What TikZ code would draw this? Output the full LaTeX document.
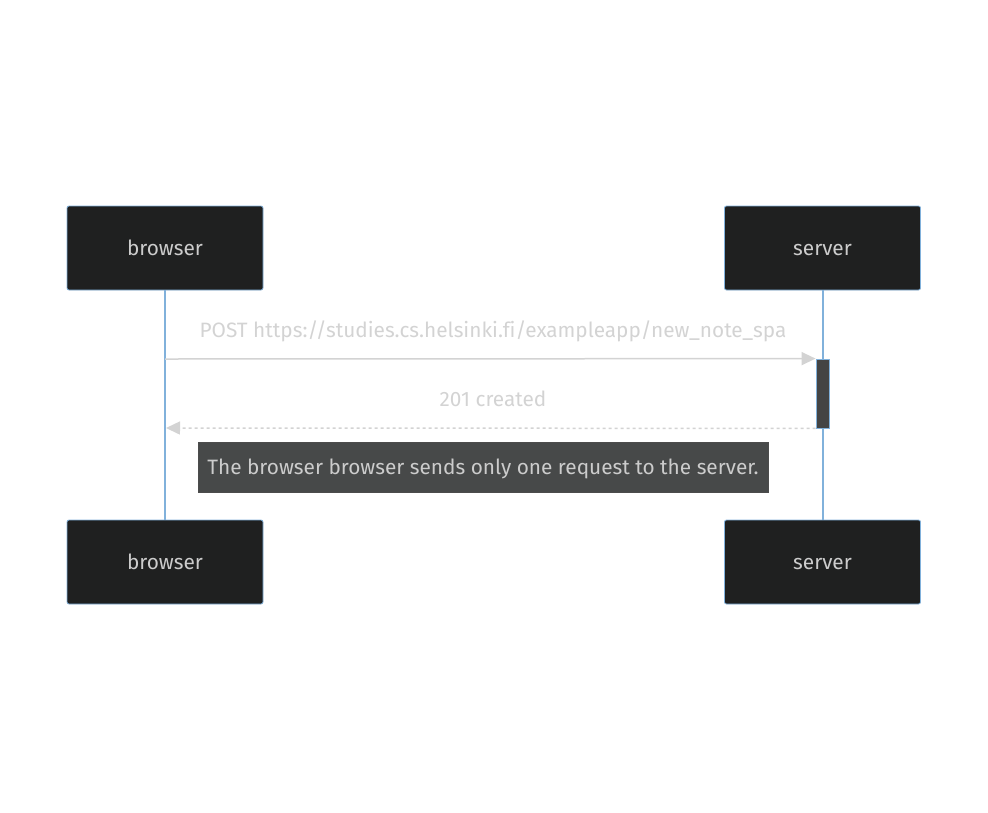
\documentclass[tikz,border=0pt]{standalone}
\usepackage{fontspec}
\setmainfont[Ligatures={NoCommon}]{Fira Sans}
\usetikzlibrary{arrows.meta}
\definecolor{boxfill}{HTML}{1F2020}
\definecolor{boxline}{HTML}{81B1DB}
\definecolor{txt}{HTML}{CCCCCC}
\definecolor{msg}{HTML}{D3D3D3}
\definecolor{notefill}{HTML}{474949}
\definecolor{actfill}{HTML}{444444}
\tikzset{
  lbl/.style={font=\fontsize{20.8}{24}\selectfont, text height=15pt, text depth=0pt},
  actor/.style={lbl, draw=boxline, fill=boxfill, rounded corners=2pt, minimum width=196pt, minimum height=84pt, text=txt, line width=0.8pt},
  life/.style={draw=boxline, line width=2pt},
  msgline/.style={draw=msg, line width=1.5pt},
  msgtext/.style={lbl, text=msg},
}
\begin{document}
\begin{tikzpicture}[x=1pt,y=-1pt]
\useasboundingbox (0,0) rectangle (988,812);
\node[actor] (b1) at (165,248) {browser};
\node[actor] (s1) at (822.5,248) {server};
\node[actor] (b2) at (165,562) {browser};
\node[actor] (s2) at (822.5,562) {server};
\draw[life] (b1.south) -- (b2.north);
\draw[life] (s1.south) -- (s2.north);
\node[draw=boxline, fill=actfill, minimum width=13pt, minimum height=69pt, inner sep=0pt, line width=0.8pt] (act) at (822.5,393.5) {};
\coordinate (p1) at (165,359);
\coordinate (p2) at (act.north west);
\coordinate (p3) at (act.south west);
\coordinate (p4) at (166,428);
\draw[msgline, -{Triangle[length=14pt,width=13pt]}] (p1) -- (p2);
\draw[msgline, dash pattern=on 3pt off 3pt, -{Triangle[length=14pt,width=13pt]}] (p3) -- (p4);
\node[msgtext] (m1) at (493,330) {POST https://studies.cs.helsinki.fi/exampleapp/new\_note\_spa};
\node[msgtext] (m2) at (493,399) {201 created};
\node[lbl, draw=black!70, fill=notefill, text=txt, minimum width=570pt, minimum height=50pt, line width=0.6pt] (note) at (483,467) {The browser browser sends only one request to the server.};
\end{tikzpicture}
\end{document}
